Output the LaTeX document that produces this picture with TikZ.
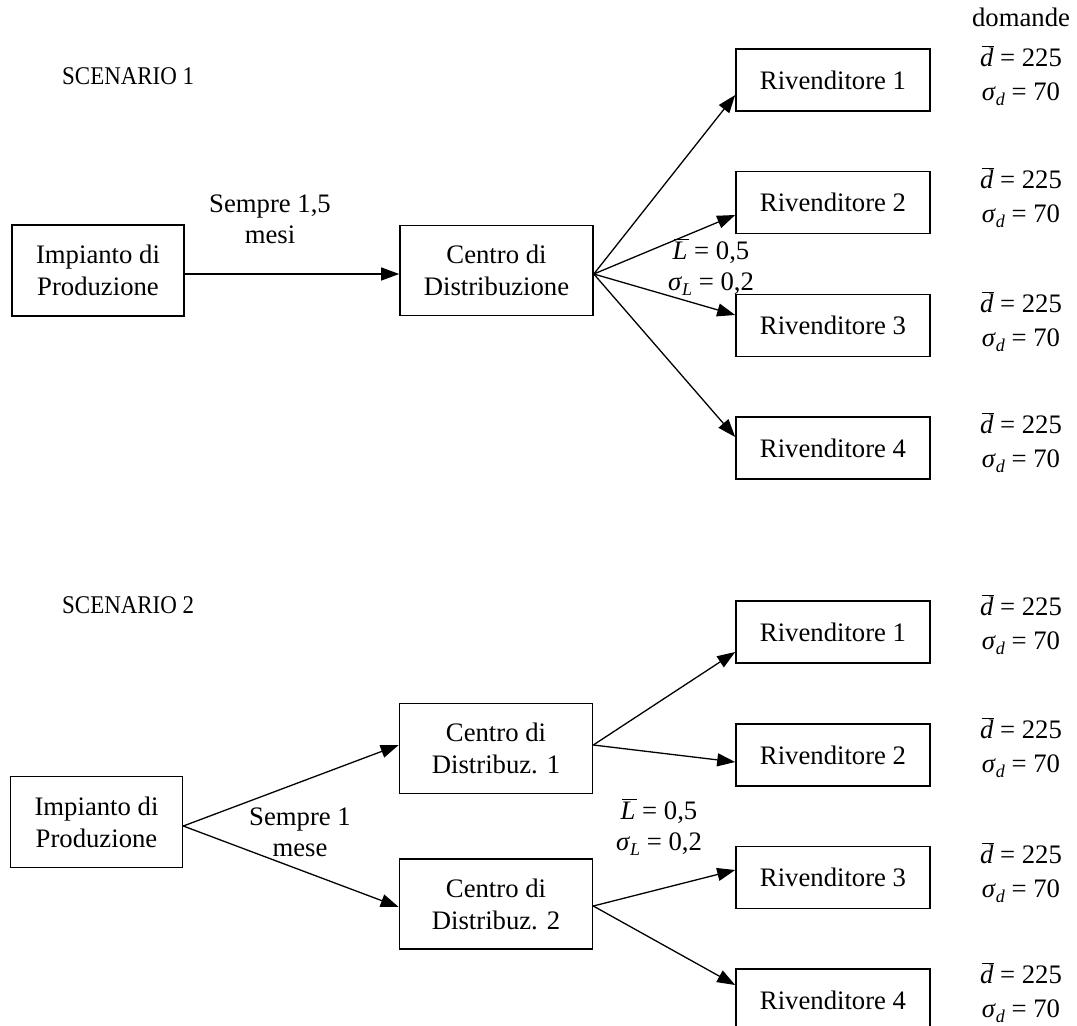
\documentclass[tikz,border=0pt]{standalone}
\usepackage{fontspec}
\setmainfont{Liberation Serif}
\usetikzlibrary{arrows.meta}
\newcommand{\mybarit}[1]{\leavevmode\setbox0\hbox{\itshape #1}\rlap{\hbox to \wd0{\hskip 1.5pt\rule[19.5pt]{\dimexpr\wd0-0.5pt\relax}{1.3pt}\hss}}\box0}
\newcommand{\mydbar}{\mybarit{d}}
\newcommand{\mysigd}{\textit{σ}\lower5pt\hbox{\fontsize{18}{18}\selectfont\itshape d}}
\newcommand{\mylbar}{\mybarit{L}}
\newcommand{\mysigl}{\textit{σ}\lower5pt\hbox{\fontsize{18}{18}\selectfont\itshape L}}
\newcommand{\myscen}[1]{\scalebox{0.9}[1]{#1}}
\begin{document}
\begin{tikzpicture}[x=1pt,y=-1pt,
 box/.style={draw,line width=1.6pt,inner sep=0pt,align=center,font=\fontsize{26.7}{32}\selectfont},
 imp/.style={box,minimum width=172pt,minimum height=91pt},
 cen/.style={box,minimum width=193pt,minimum height=90pt},
 riv/.style={box,minimum width=194pt,minimum height=62pt},
 lbl/.style={align=center,inner sep=0pt,font=\fontsize{26.7}{31}\selectfont},
 stat/.style={align=center,inner sep=0pt,font=\fontsize{26.7}{34}\selectfont},
 scen/.style={anchor=west,inner sep=0pt,font=\fontsize{25.5}{28}\selectfont},
 arr/.style={line width=1.3pt,-{Triangle[length=18pt,width=13pt]}}]
\clip (0,0) rectangle (1077,1026);
% ---------- Scenario 1 ----------
\node[scen] (sc1) at (62,76) {\myscen{SCENARIO 1}};
\node[imp] (p1) at (98,270.5) {Impianto di\\Produzione};
\node[cen] (c1) at (496.5,270.5) {Centro di\\Distribuzione};
\node[riv] (r11) at (833,80) {Rivenditore 1};
\node[riv] (r12) at (833,202.5) {Rivenditore 2};
\node[riv] (r13) at (833,325.5) {Rivenditore 3};
\node[riv] (r14) at (833,448) {Rivenditore 4};
\node[lbl] (dom) at (1021,17) {domande};
\node[stat] (s11) at (1021,75.5) {\mydbar{} = 225\\\mysigd{} = 70};
\node[stat] (s12) at (1021,197.5) {\mydbar{} = 225\\\mysigd{} = 70};
\node[stat] (s13) at (1021,322) {\mydbar{} = 225\\\mysigd{} = 70};
\node[stat] (s14) at (1021,443) {\mydbar{} = 225\\\mysigd{} = 70};
\node[lbl] (sem1) at (270,219) {Sempre 1,5\\mesi};
\node[lbl] (l1) at (711,267.5) {\mylbar{} = 0,5\\\mysigl{} = 0,2};
\draw[arr] ([yshift=-3.5pt]p1.east) -- ([yshift=-3.5pt]c1.west);
\draw[arr] ([yshift=-3.5pt]c1.east) -- ([yshift=-15pt]r11.west);
\draw[arr] ([yshift=-3.5pt]c1.east) -- ([yshift=-12.5pt]r12.west);
\draw[arr] ([yshift=-3.5pt]c1.east) -- ([yshift=10.5pt]r13.west);
\draw[arr] ([yshift=-3.5pt]c1.east) -- ([yshift=11pt]r14.west);
% ---------- Scenario 2 ----------
\node[scen] (sc2) at (62,605) {\myscen{SCENARIO 2}};
\node[imp] (p2) at (96.5,822) {Impianto di\\Produzione};
\node[cen] (c21) at (496,748.5) {Centro di\\Distribuz. 1};
\node[cen] (c22) at (496,904) {Centro di\\Distribuz. 2};
\node[riv] (r21) at (833,632) {Rivenditore 1};
\node[riv] (r22) at (833,755) {Rivenditore 2};
\node[riv] (r23) at (833,877.5) {Rivenditore 3};
\node[riv] (r24) at (833,1000) {Rivenditore 4};
\node[stat] (s21) at (1021,625) {\mydbar{} = 225\\\mysigd{} = 70};
\node[stat] (s22) at (1021,747.5) {\mydbar{} = 225\\\mysigd{} = 70};
\node[stat] (s23) at (1021,872.5) {\mydbar{} = 225\\\mysigd{} = 70};
\node[stat] (s24) at (1021,993) {\mydbar{} = 225\\\mysigd{} = 70};
\node[lbl] (sem2) at (300,832) {Sempre 1\\mese};
\node[lbl] (l2) at (659,827.5) {\mylbar{} = 0,5\\\mysigl{} = 0,2};
\draw[arr] ([yshift=-4pt]p2.east) -- ([yshift=3.5pt]c21.west);
\draw[arr] ([yshift=-4pt]p2.east) -- ([yshift=-3pt]c22.west);
\draw[arr] ([yshift=3.5pt]c21.east) -- ([yshift=-20pt]r21.west);
\draw[arr] ([yshift=3.5pt]c21.east) -- ([yshift=-7pt]r22.west);
\draw[arr] ([yshift=-2pt]c22.east) -- ([yshift=7.5pt]r23.west);
\draw[arr] ([yshift=-2pt]c22.east) -- ([yshift=15pt]r24.west);
\end{tikzpicture}
\end{document}
